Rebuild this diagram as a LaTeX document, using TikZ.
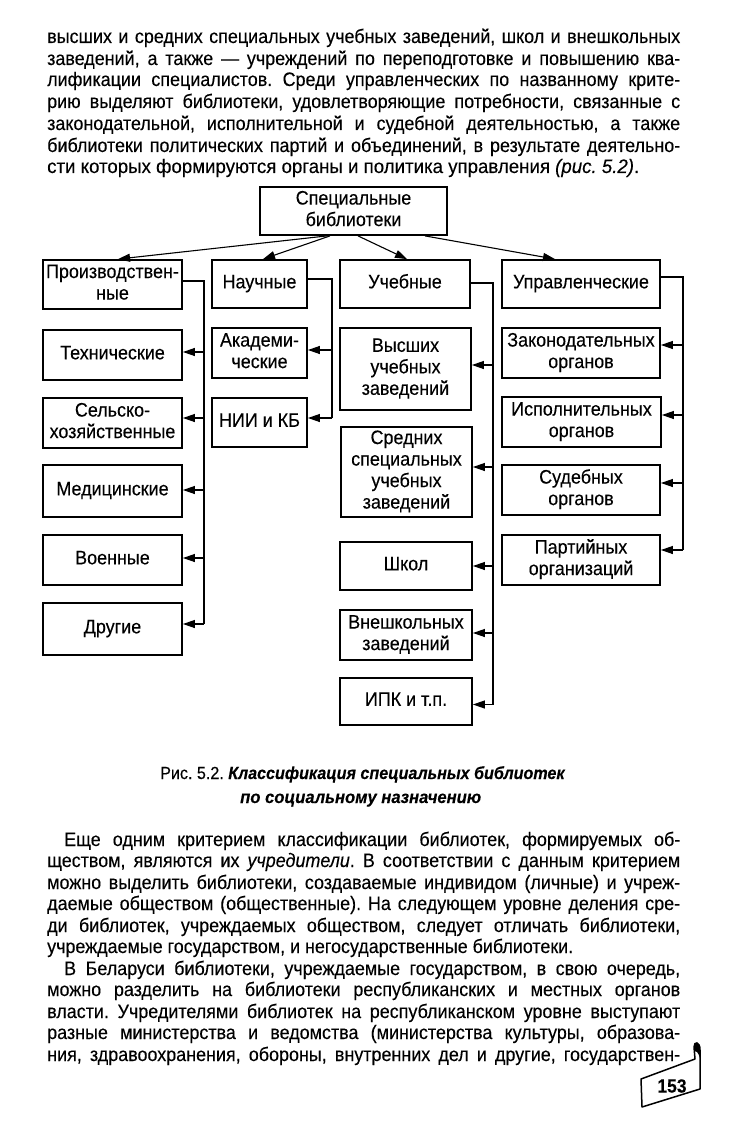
\documentclass[tikz,border=0pt]{standalone}
\usepackage{fontspec}
\setmainfont{Liberation Sans}[FakeStretch=0.92, FakeBold=0.2]
\frenchspacing
\usetikzlibrary{arrows.meta}
\newlength\lnw
\newcommand\jline[2]{\settowidth{\lnw}{#2}\ifdim\lnw<#1\relax\makebox[#1][s]{#2}\else\resizebox{#1}{\height}{#2}\fi}
\newcommand\pline[2]{\resizebox{#1}{\height}{#2}}
\begin{document}
\begin{tikzpicture}[x=1pt,y=-1pt,
  bx/.style={draw, line width=1.8pt, inner sep=1pt, align=center, font=\fontsize{19.5}{21.5}\selectfont},
  ln/.style={line width=1.1pt},
  arr/.style={ln, -{Triangle[length=12pt,width=8pt]}},
  txt/.style={anchor=base west, inner sep=0pt, font=\fontsize{19.5}{21}\selectfont},
  captxt/.style={anchor=base west, inner sep=0pt, font=\fontsize{17.5}{20}\selectfont}]
\fill[white] (0,0) rectangle (737,1134);
\useasboundingbox (0,0) rectangle (737,1134);

% ---- top paragraph ----
\node[txt] (l1) at (47,43) {\jline{633pt}{высших и средних специальных учебных заведений, школ и внешкольных}};
\node[txt] (l2) at (47,65) {\jline{633pt}{заведений, а также — учреждений по переподготовке и повышению ква-}};
\node[txt] (l3) at (47,86) {\jline{633pt}{лификации специалистов. Среди управленческих по названному крите-}};
\node[txt] (l4) at (47,108) {\jline{633pt}{рию выделяют библиотеки, удовлетворяющие потребности, связанные с}};
\node[txt] (l5) at (47,130) {\jline{633pt}{законодательной, исполнительной и судебной деятельностью, а также}};
\node[txt] (l6) at (47,152) {\jline{633pt}{библиотеки политических партий и объединений, в результате деятельно-}};
\node[txt] (l7) at (47,173) {\pline{592pt}{сти которых формируются органы и политика управления \textit{(рис. 5.2)}.}};

% ---- diagram boxes ----
\node[bx, minimum width=187pt, minimum height=48pt] (T) at (353.5,211) {\strut Специальные\\\strut библиотеки};

\node[bx, minimum width=139pt, minimum height=49pt] (P) at (112.5,284.5) {\strut Производствен-\\\strut ные};
\node[bx, minimum width=95pt, minimum height=48pt] (N) at (259.5,284) {\strut Научные};
\node[bx, minimum width=130pt, minimum height=48pt] (U) at (405,284) {\strut Учебные};
\node[bx, minimum width=158pt, minimum height=48pt] (M) at (581,284) {\strut Управленческие};

\node[bx, minimum width=139pt, minimum height=50pt] (Tex) at (112.5,355) {\strut Технические};
\node[bx, minimum width=139pt, minimum height=50pt] (Sel) at (112.5,423) {\strut Сельско-\\\strut хозяйственные};
\node[bx, minimum width=139pt, minimum height=52pt] (Med) at (112.5,491) {\strut Медицинские};
\node[bx, minimum width=139pt, minimum height=50pt] (Voe) at (112.5,560) {\strut Военные};
\node[bx, minimum width=139pt, minimum height=52pt] (Dru) at (112.5,629) {\strut Другие};

\node[bx, minimum width=95pt, minimum height=50pt] (Aka) at (259.5,353) {\strut Академи-\\\strut ческие};
\node[bx, minimum width=95pt, minimum height=49pt] (NII) at (259.5,422.5) {\strut НИИ и КБ};

\node[bx, minimum width=131pt, minimum height=82pt] (Vys) at (405.5,369) {\strut Высших\\\strut учебных\\\strut заведений};
\node[bx, minimum width=131pt, minimum height=90pt] (Sre) at (406.5,472) {\strut Средних\\\strut специальных\\\strut учебных\\\strut заведений};
\node[bx, minimum width=132pt, minimum height=48pt] (Shk) at (406,566) {\strut Школ};
\node[bx, minimum width=132pt, minimum height=50pt] (Vne) at (406,635) {\strut Внешкольных\\\strut заведений};
\node[bx, minimum width=132pt, minimum height=47pt] (IPK) at (406,701.5) {\strut ИПК и т.п.};

\node[bx, minimum width=158pt, minimum height=50pt] (Zak) at (581,353) {\strut Законодательных\\\strut органов};
\node[bx, minimum width=159pt, minimum height=50pt] (Isp) at (581.5,422) {\strut Исполнительных\\\strut органов};
\node[bx, minimum width=158pt, minimum height=50pt] (Sud) at (581,490) {\strut Судебных\\\strut органов};
\node[bx, minimum width=158pt, minimum height=50pt] (Par) at (581,560) {\strut Партийных\\\strut организаций};

% ---- top arrows ----
\draw[arr] ([xshift=-26.5pt]T.south) -- ([xshift=5.5pt]P.north);
\draw[arr] ([xshift=-23.5pt]T.south) -- ([xshift=3.5pt]N.north);
\draw[arr] ([xshift=4.5pt]T.south) -- ([xshift=2pt]U.north);
\draw[arr] ([xshift=71.5pt]T.south) -- ([xshift=-26pt]M.north);

% ---- bus coordinates ----
\coordinate (bP) at (204,0);
\coordinate (bN) at (332,0);
\coordinate (bU) at (493,0);
\coordinate (bM) at (683,0);

\coordinate (aP) at ([yshift=3.5pt]P.east);
\coordinate (aN) at ([yshift=5pt]N.east);
\coordinate (aU) at ([yshift=1pt]U.east);
\coordinate (aM) at ([yshift=7pt]M.east);

\coordinate (aTex) at ([yshift=3pt]Tex.east);
\coordinate (aSel) at ([yshift=5pt]Sel.east);
\coordinate (aMed) at ([yshift=1pt]Med.east);
\coordinate (aVoe) at ([yshift=2pt]Voe.east);
\coordinate (aDru) at ([yshift=5pt]Dru.east);
\coordinate (aAka) at ([yshift=3pt]Aka.east);
\coordinate (aNII) at ([yshift=4.5pt]NII.east);
\coordinate (aVys) at ([yshift=4pt]Vys.east);
\coordinate (aSre) at ([yshift=5pt]Sre.east);
\coordinate (aShk) at (Shk.east);
\coordinate (aVne) at ([yshift=2pt]Vne.east);
\coordinate (aIPK) at ([yshift=-3pt]IPK.east);
\coordinate (aZak) at ([yshift=8pt]Zak.east);
\coordinate (aIsp) at ([yshift=7pt]Isp.east);
\coordinate (aSud) at ([yshift=7pt]Sud.east);
\coordinate (aPar) at ([yshift=10pt]Par.east);

% ---- buses ----
\draw[ln] (aP) -- (aP -| bP) -- (bP |- aDru);
\draw[ln] (aN) -- (aN -| bN) -- (bN |- aNII);
\draw[ln] (aU) -- (aU -| bU) -- (bU |- aIPK);
\draw[ln] (aM) -- (aM -| bM) -- (bM |- aPar);

\foreach \c in {Tex,Sel,Med,Voe,Dru} \draw[arr] (bP |- a\c) -- (a\c);
\foreach \c in {Aka,NII} \draw[arr] (bN |- a\c) -- (a\c);
\foreach \c in {Vys,Sre,Shk,Vne,IPK} \draw[arr] (bU |- a\c) -- (a\c);
\foreach \c in {Zak,Isp,Sud,Par} \draw[arr] (bM |- a\c) -- (a\c);

% ---- caption ----
\node[captxt] (c1) at (160,779) {\pline{405pt}{Рис. 5.2. \textbf{\textit{Классификация специальных библиотек}}}};
\node[captxt] (c2) at (240,803) {\pline{241pt}{\textbf{\textit{по социальному назначению}}}};

% ---- bottom paragraphs ----
\node[txt] (b1) at (64,846) {\jline{616pt}{Еще одним критерием классификации библиотек, формируемых об-}};
\node[txt] (b2) at (47,867) {\jline{633pt}{ществом, являются их \textit{учредители}. В соответствии с данным критерием}};
\node[txt] (b3) at (47,889) {\jline{633pt}{можно выделить библиотеки, создаваемые индивидом (личные) и учреж-}};
\node[txt] (b4) at (47,910) {\jline{633pt}{даемые обществом (общественные). На следующем уровне деления сре-}};
\node[txt] (b5) at (47,932) {\jline{633pt}{ди библиотек, учреждаемых обществом, следует отличать библиотеки,}};
\node[txt] (b6) at (47,953) {\pline{526pt}{учреждаемые государством, и негосударственные библиотеки.}};
\node[txt] (b7) at (64,975) {\jline{616pt}{В Беларуси библиотеки, учреждаемые государством, в свою очередь,}};
\node[txt] (b8) at (47,996) {\jline{633pt}{можно разделить на библиотеки республиканских и местных органов}};
\node[txt] (b9) at (47,1018) {\jline{633pt}{власти. Учредителями библиотек на республиканском уровне выступают}};
\node[txt] (b10) at (47,1039) {\jline{633pt}{разные министерства и ведомства (министерства культуры, образова-}};
\node[txt] (b11) at (47,1061) {\jline{633pt}{ния, здравоохранения, обороны, внутренних дел и другие, государствен-}};

% ---- page number tab ----
\draw[line width=1.5pt, line join=round]
  (641,1079) -- (695,1059) -- (694,1047)
  .. controls (694,1041) and (700,1041) .. (700,1050)
  -- (700,1089) -- (642,1107) -- cycle;
\fill (694,1047) .. controls (694,1041) and (700,1041) .. (700,1050) -- (700,1058) .. controls (698,1052) and (696,1050) .. (694,1052) -- cycle;
\node[font=\bfseries\fontsize{19}{19}\selectfont, inner sep=0pt] (pg) at (672,1086) {153};
\end{tikzpicture}
\end{document}
